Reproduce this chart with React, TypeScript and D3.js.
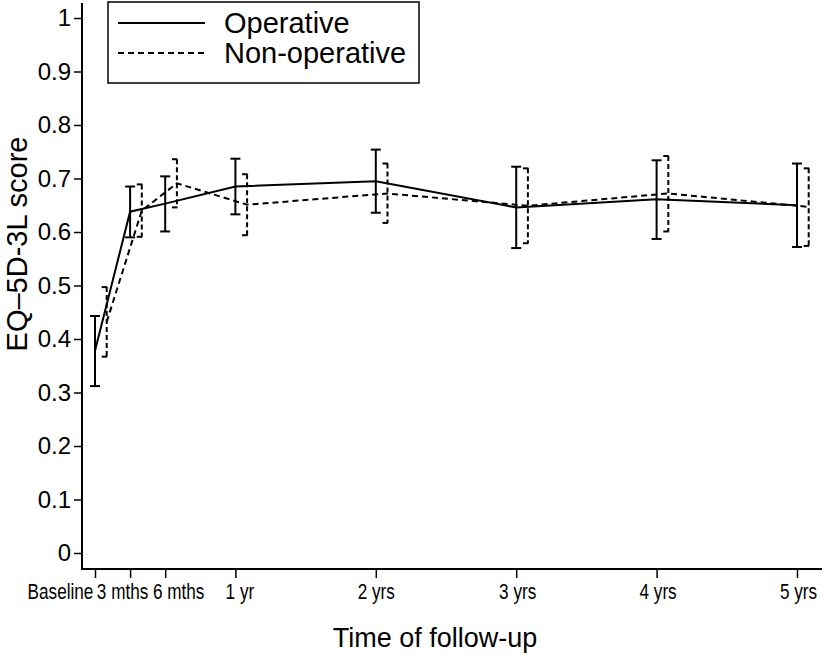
import * as d3 from "d3";
import { useEffect, useRef } from "react";

// time points (months since baseline) and their labels
const timeLabels = ["Baseline", "3 mths", "6 mths", "1 yr", "2 yrs", "3 yrs", "4 yrs", "5 yrs"];
const timeMonths = [0, 3, 6, 12, 24, 36, 48, 60];

// Operative group: mean and 95% CI
const operativeMean = [0.378, 0.638, 0.653, 0.685, 0.695, 0.646, 0.661, 0.65];
const operativeLower = [0.312, 0.59, 0.601, 0.633, 0.636, 0.57, 0.587, 0.572];
const operativeUpper = [0.443, 0.685, 0.704, 0.737, 0.754, 0.722, 0.734, 0.728];

// Non-operative group: mean and 95% CI
const nonOperativeMean = [0.432, 0.64, 0.691, 0.651, 0.672, 0.649, 0.672, 0.647];
const nonOperativeLower = [0.367, 0.591, 0.646, 0.594, 0.617, 0.579, 0.601, 0.574];
const nonOperativeUpper = [0.497, 0.689, 0.736, 0.708, 0.728, 0.719, 0.742, 0.719];

const yTicks = [0, 0.1, 0.2, 0.3, 0.4, 0.5, 0.6, 0.7, 0.8, 0.9, 1];

const WIDTH = 826;
const HEIGHT = 654;
const FONT = "'Liberation Sans', Arial, Helvetica, sans-serif";

export default function App() {
  const svgRef = useRef<SVGSVGElement>(null);

  useEffect(() => {
    if (!svgRef.current) return;
    const svg = d3.select(svgRef.current);
    svg.selectAll("*").remove();

    const axisX = 82; // y axis line position
    const axisY = 569; // x axis line position
    const nonOpShift = 1; // non-operative drawn one month to the right
    // the crowded first labels are nudged apart, as in the original
    const labelNudge = [-35, -8, 13, 4, 0, 1, 1, 1];

    const x = d3.scaleLinear().domain([0, 60]).range([95, 797]);
    const y = d3.scaleLinear().domain([0, 1]).range([553, 18]);

    const series = [
      {
        name: "Operative",
        mean: operativeMean,
        lower: operativeLower,
        upper: operativeUpper,
        shift: 0,
        dash: null as string | null,
      },
      {
        name: "Non-operative",
        mean: nonOperativeMean,
        lower: nonOperativeLower,
        upper: nonOperativeUpper,
        shift: nonOpShift,
        dash: "6,4",
      },
    ];

    // Axis lines
    svg
      .append("line")
      .attr("x1", axisX)
      .attr("x2", axisX)
      .attr("y1", 3)
      .attr("y2", axisY)
      .attr("stroke", "#000")
      .attr("stroke-width", 2);
    svg
      .append("line")
      .attr("x1", axisX - 1)
      .attr("x2", 822)
      .attr("y1", axisY)
      .attr("y2", axisY)
      .attr("stroke", "#000")
      .attr("stroke-width", 2);

    // Y axis
    svg
      .append("g")
      .attr("transform", `translate(${axisX},0)`)
      .call(
        d3
          .axisLeft(y)
          .tickValues(yTicks)
          .tickSize(8)
          .tickPadding(3)
          .tickFormat((d) => (d === 0 || d === 1 ? String(d) : d3.format(".1f")(d as number))),
      )
      .call((g) => g.select(".domain").remove())
      .call((g) => g.selectAll(".tick line").attr("stroke", "#000").attr("stroke-width", 1.5))
      .call((g) =>
        g
          .selectAll(".tick text")
          .attr("fill", "#000")
          .attr("font-family", FONT)
          .attr("font-size", "24px"),
      );

    // X axis
    svg
      .append("g")
      .attr("transform", `translate(0,${axisY})`)
      .call(
        d3
          .axisBottom(x)
          .tickValues(timeMonths)
          .tickSize(9)
          .tickPadding(5)
          .tickFormat((_, i) => timeLabels[i]),
      )
      .call((g) => g.select(".domain").remove())
      .call((g) => g.selectAll(".tick line").attr("stroke", "#000").attr("stroke-width", 1.5))
      .call((g) =>
        g
          .selectAll<SVGTextElement, number>(".tick text")
          .attr("fill", "#000")
          .attr("font-family", FONT)
          .attr("font-size", "22px")
          .attr("transform", (_, i) => `translate(${labelNudge[i]},0) scale(0.78,1)`),
      );

    // Axis titles
    svg
      .append("text")
      .attr("x", 435)
      .attr("y", 647)
      .attr("text-anchor", "middle")
      .attr("font-family", FONT)
      .attr("font-size", "27px")
      .text("Time of follow-up");

    svg
      .append("text")
      .attr("transform", "translate(27,244) rotate(-90)")
      .attr("text-anchor", "middle")
      .attr("font-family", FONT)
      .attr("font-size", "29px")
      .text("EQ–5D-3L score");

    // Lines and error bars
    const capHalf = 5;
    series.forEach((s) => {
      const pts = timeMonths.map((m, i) => ({
        m: m + s.shift,
        mean: s.mean[i],
        lo: s.lower[i],
        hi: s.upper[i],
      }));

      const line = d3
        .line<(typeof pts)[number]>()
        .x((d) => x(d.m))
        .y((d) => y(d.mean));

      svg
        .append("path")
        .datum(pts)
        .attr("d", line)
        .attr("fill", "none")
        .attr("stroke", "#000")
        .attr("stroke-width", 2)
        .attr("stroke-dasharray", s.dash);

      const bars = svg.append("g").selectAll("g").data(pts).enter().append("g");

      bars
        .append("line")
        .attr("x1", (d) => x(d.m))
        .attr("x2", (d) => x(d.m))
        .attr("y1", (d) => y(d.hi))
        .attr("y2", (d) => y(d.lo))
        .attr("stroke", "#000")
        .attr("stroke-width", 2)
        .attr("stroke-dasharray", s.dash ? "5,3" : null);

      (["hi", "lo"] as const).forEach((k) => {
        bars
          .append("line")
          .attr("x1", (d) => x(d.m) - capHalf)
          .attr("x2", (d) => x(d.m) + capHalf)
          .attr("y1", (d) => y(d[k]))
          .attr("y2", (d) => y(d[k]))
          .attr("stroke", "#000")
          .attr("stroke-width", 2)
          .attr("stroke-dasharray", s.dash ? "5.5,5" : null);
      });
    });

    // Legend
    const legend = svg.append("g");
    legend
      .append("rect")
      .attr("x", 108)
      .attr("y", 2)
      .attr("width", 311)
      .attr("height", 81)
      .attr("fill", "#fff")
      .attr("stroke", "#000")
      .attr("stroke-width", 1.5);

    series.forEach((s, i) => {
      const ly = 23 + i * 30;
      legend
        .append("line")
        .attr("x1", 118)
        .attr("x2", 205)
        .attr("y1", ly)
        .attr("y2", ly)
        .attr("stroke", "#000")
        .attr("stroke-width", 2)
        .attr("stroke-dasharray", s.dash);
      legend
        .append("text")
        .attr("x", 224)
        .attr("y", ly + 9.5)
        .attr("font-family", FONT)
        .attr("font-size", "29px")
        .text(s.name);
    });
  }, []);

  return (
    <svg
      ref={svgRef}
      width={WIDTH}
      height={HEIGHT}
      style={{ position: "absolute", left: 0, top: 0, background: "#fff" }}
    />
  );
}
